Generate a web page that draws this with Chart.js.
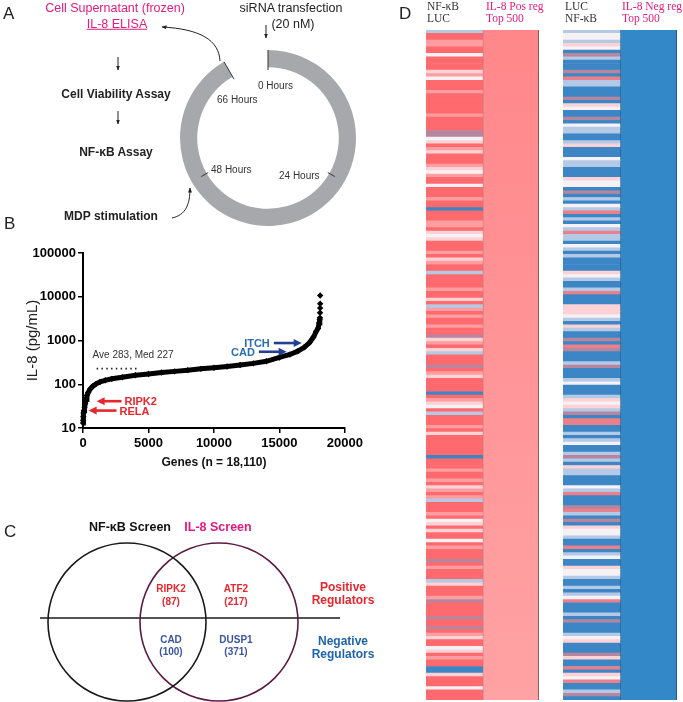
<!DOCTYPE html>
<html>
<head>
<meta charset="utf-8">
<script src="https://cdn.jsdelivr.net/npm/chart.js@4.4.0/dist/chart.umd.min.js"></script>
<style>
  body { margin: 0; width: 683px; height: 702px; position: relative; overflow: hidden; background: #fff;
         font-family: "Liberation Sans", Arial, sans-serif; }
  canvas { position: absolute; }
  .t { position: absolute; white-space: nowrap; line-height: 1; }
  svg { position: absolute; left: 0; top: 0; pointer-events: none; }
</style>
</head>
<body>
<canvas id="ring" width="184" height="184" style="left:176px;top:46px"></canvas>
<canvas id="il8" width="366" height="240" style="left:0;top:240px"></canvas>
<canvas id="venn" width="360" height="172" style="left:0;top:530px"></canvas>
<canvas id="heatPos" width="113" height="670" style="left:426px;top:30px"></canvas>
<canvas id="heatNeg" width="114" height="670" style="left:563px;top:30px"></canvas>

<svg width="683" height="702">
  <defs>
    <marker id="hd" viewBox="0 0 10 10" refX="9" refY="5" markerWidth="5" markerHeight="5" orient="auto">
      <path d="M0,1 L10,5 L0,9 z" fill="#222"/>
    </marker>
  </defs>
  <g stroke="#222" stroke-width="1" fill="none" marker-end="url(#hd)">
    <path d="M266,25 L266,38"/>
    <path d="M118,57 L118,70"/>
    <path d="M118,111 L118,124"/>
    <path d="M220,61 C219,40 200,29 162,27"/>
    <path d="M172,218 C186,215 190,204 190,188"/>
  </g>
</svg>

<script>
// ---- panel A : 72 h cycle, ring covers the 66 h up to ELISA
const cycleLabels = ['0-66 Hours', '66-72 Hours'];
const cycleHours = [66, 6];
const tickHours = [0, 24, 48, 66];

// ---- panel B : ranked IL-8 values
const geneRank = [0, 10, 25, 50, 80, 120, 170, 230, 300, 400, 550, 750, 1000, 1300, 1700, 2200, 3000, 4000,
  5000, 6000, 7000, 8000, 9000, 10000, 11000, 12000, 13000, 14000, 15000, 15800, 16400, 16900, 17300,
  17600, 17800, 17950, 18030, 18070, 18090];
const il8Value = [13, 15, 18, 22, 25, 30, 36, 45, 55, 65, 78, 90, 102, 113, 123, 133, 145, 160,
  172, 185, 197, 210, 225, 238, 255, 275, 300, 335, 410, 480, 570, 700, 900,
  1200, 1600, 1900, 2500, 3000, 3300];
// top outliers, drawn as lone diamonds
const outlierRank = [18100, 18108, 18109, 18110];
const outlierValue = [4300, 5500, 6900, 10700];
const yTicks = [10, 100, 1000, 10000, 100000];
const medianLine = [1040, 4310];
const medianValue = 227;

const calloutGenes = ['RIPK2', 'RELA', 'ITCH', 'CAD'];
const calloutTail = [2940, 2560, 14570, 13430];
const calloutHead = [1040, 430, 16700, 15550];
const calloutLevel = [41, 25, 875, 553];

// ---- panel C : overlap of the two screens
const vennSets = ['NF-κB Screen', 'IL-8 Screen'];
const vennX = [127, 219];
const vennY = [92, 92];
const vennR = 79;

// ---- panel D : top 500 regulators, 200 bins (R strong red ... B strong blue)
const posStripes =
  'lRRrrRRwRRRRprwRRRrR' + 'RRRRRrRRRRmmwpRrpRRR' + 'rpwrRRwRRRrRRBRRRrrR' + 'pwpRRRrRprRRlRRRRrRR' +
  'pRlrRrRRrRRmprRplRRR' + 'mRrpRRRRBRrpwRlRRRrR' + 'pRRRRRRBRRRrRRrRprRr' + 'lRRRrRwpRpRRwRrRRRmR' +
  'rRRRlpRRRrmRRRRmRRmR' + 'rpRRwpRrRRBBpRRRwRRR';
const negStripes =
  'lwwlpwBmlBBBmBxllBBB' + 'mBpwBBmBwllBBlpBBBwl' + 'lBBBpwwBmBlBwlxBlBwl' + 'xllBwlBlBBBBpwlBBlxB' +
  'BBpppwlBplBBmBxmBBBl' + 'mBBBlwBBBlpwplmBxxBB' + 'lBlwBBlmlBpllBBBwlxB' + 'BBmxlBmBpwwlBBxBlwBB' +
  'pwwlBBlBlwxBBBlBmBBB' + 'lwpBBBmpBBxBpwxBBlmB';
const stripeColor = { R: '#ff6a6e', r: '#ff9ea1', p: '#fdd2d5', w: '#f5f1f5', l: '#b3c9e6',
                      B: '#3c86c6', m: '#b5869d', x: '#e9808a' };

const PINK = '#e6197d', RED = '#e8262d', NAVY = '#233f94', STEEL = '#2a6db3';

Chart.defaults.font.family = "'Liberation Sans', Arial, sans-serif";
Chart.defaults.animation = false;
Chart.defaults.responsive = false;
Chart.defaults.plugins.legend.display = false;
Chart.defaults.plugins.tooltip.enabled = false;

function put(txt, x, y, css, align) {
  const d = document.createElement('div');
  d.className = 't';
  d.textContent = txt;
  d.style.cssText = css || '';
  d.style.left = x + 'px';
  d.style.top = y + 'px';
  const tx = align === 'c' ? '-50%' : align === 'r' ? '-100%' : '0';
  d.style.transform = 'translate(' + tx + ',-50%)';
  document.body.appendChild(d);
  return d;
}

// ring ticks
const ringTicks = {
  id: 'ringTicks',
  afterDraw(chart) {
    const arc = chart.getDatasetMeta(0).data[0];
    const { x, y } = arc.getProps(['x', 'y'], true);
    const ctx = chart.ctx;
    ctx.save();
    ctx.strokeStyle = '#333';
    ctx.lineWidth = 1;
    tickHours.forEach(h => {
      const a = -Math.PI / 2 + h / 72 * Math.PI * 2;
      const long = (h === 0 || h === 66);
      const r0 = long ? 88 : 77, r1 = long ? 68 : 69;
      ctx.beginPath();
      ctx.moveTo(x + r0 * Math.cos(a), y + r0 * Math.sin(a));
      ctx.lineTo(x + r1 * Math.cos(a), y + r1 * Math.sin(a));
      ctx.stroke();
    });
    ctx.restore();
  }
};

new Chart(document.getElementById('ring'), {
  type: 'doughnut',
  data: { labels: cycleLabels, datasets: [{ data: cycleHours, backgroundColor: ['#a6a8ab', 'rgba(0,0,0,0)'], borderWidth: 0, hoverOffset: 0 }] },
  options: { radius: 88, cutout: 74, rotation: 0, devicePixelRatio: 1 },
  plugins: [ringTicks]
});

// callout arrows + median label
const callouts = {
  id: 'callouts',
  afterDatasetsDraw(chart) {
    const { ctx, scales: { x, y } } = chart;
    ctx.save();
    calloutGenes.forEach((g, i) => {
      const py = y.getPixelForValue(calloutLevel[i]);
      const xt = x.getPixelForValue(calloutTail[i]);
      const xh = x.getPixelForValue(calloutHead[i]);
      const pos = i < 2;
      const col = pos ? RED : NAVY;
      const dir = xh < xt ? -1 : 1;
      ctx.strokeStyle = col;
      ctx.fillStyle = col;
      ctx.lineWidth = 2.6;
      ctx.beginPath();
      ctx.moveTo(xt, py);
      ctx.lineTo(xh - dir * 6, py);
      ctx.stroke();
      ctx.beginPath();
      ctx.moveTo(xh, py);
      ctx.lineTo(xh - dir * 8, py - 4);
      ctx.lineTo(xh - dir * 8, py + 4);
      ctx.closePath();
      ctx.fill();
      ctx.font = 'bold 11px "Liberation Sans", Arial, sans-serif';
      ctx.textBaseline = 'middle';
      ctx.fillStyle = pos ? RED : STEEL;
      if (pos) { ctx.textAlign = 'left'; ctx.fillText(g, xt + 3, py + 1); }
      else { ctx.textAlign = 'right'; ctx.fillText(g, xt - 4, py + 1); }
    });
    const mx = x.getPixelForValue(medianLine[0]);
    const my = y.getPixelForValue(medianValue);
    ctx.font = '10px "Liberation Sans", Arial, sans-serif';
    ctx.fillStyle = '#333';
    ctx.textAlign = 'left';
    ctx.textBaseline = 'middle';
    ctx.fillText('Ave 283, Med 227', mx - 4, my - 13);
    ctx.restore();
  }
};

const diamond = { pointStyle: 'rectRot', pointRadius: 3.2, pointBackgroundColor: '#000', pointBorderWidth: 0, clip: false };

new Chart(document.getElementById('il8'), {
  type: 'scatter',
  data: {
    datasets: [
      Object.assign({ data: geneRank.map((r, i) => ({ x: r, y: il8Value[i] })), showLine: true, borderColor: '#000', borderWidth: 5 }, diamond),
      Object.assign({ data: outlierRank.map((r, i) => ({ x: r, y: outlierValue[i] })), showLine: false }, diamond),
      { data: medianLine.map(r => ({ x: r, y: medianValue })), showLine: true, borderColor: '#222', borderWidth: 1.6,
        borderDash: [1.5, 3.3], pointRadius: 0 }
    ]
  },
  options: {
    devicePixelRatio: 1,
    layout: { autoPadding: false, padding: { top: 13, right: 19.5, left: 0, bottom: 0 } },
    scales: {
      x: {
        type: 'linear', min: 0, max: 20000,
        ticks: { stepSize: 5000, callback: v => String(v), color: '#000', padding: 3, maxRotation: 0,
                 font: { size: 13, weight: 'bold' } },
        grid: { drawOnChartArea: false, drawTicks: true, tickLength: 5, color: '#000', lineWidth: 1.5 },
        border: { display: true, color: '#000', width: 2 },
        title: { display: true, text: 'Genes (n = 18,110)', color: '#111', font: { size: 12, weight: 'bold' }, padding: { bottom: 10, top: 0 } },
        afterFit: s => { s.height = 52; }
      },
      y: {
        type: 'logarithmic', min: 10, max: 100000,
        afterBuildTicks: s => { s.ticks = yTicks.map(v => ({ value: v })); },
        ticks: { callback: v => String(v), color: '#000', padding: 2, font: { size: 13, weight: 'bold' } },
        grid: { drawOnChartArea: false, drawTicks: true, tickLength: 5, color: '#000', lineWidth: 1.5 },
        border: { display: true, color: '#000', width: 2 },
        title: { display: true, text: 'IL-8 (pg/mL)', color: '#222', font: { size: 15 }, padding: { top: 24, bottom: 0 } },
        afterFit: s => { s.width = 83; }
      }
    }
  },
  plugins: [callouts]
});

// Venn
new Chart(document.getElementById('venn'), {
  type: 'scatter',
  data: {
    datasets: [
      { data: [{ x: vennX[0], y: vennY[0] }], pointRadius: vennR, pointBorderColor: '#1a1a1a', pointBackgroundColor: 'rgba(0,0,0,0)', pointBorderWidth: 1.6, clip: false },
      { data: [{ x: vennX[1], y: vennY[1] }], pointRadius: vennR, pointBorderColor: '#5b1a45', pointBackgroundColor: 'rgba(0,0,0,0)', pointBorderWidth: 1.6, clip: false },
      { data: [{ x: 40, y: 88 }, { x: 340, y: 88 }], showLine: true, borderColor: '#1a1a1a', borderWidth: 1.6, pointRadius: 0 }
    ]
  },
  options: {
    devicePixelRatio: 1,
    layout: { autoPadding: false, padding: 0 },
    scales: { x: { display: false, min: 0, max: 360 }, y: { display: false, min: 0, max: 172, reverse: true } }
  }
});

// heatmaps
function heatmap(id, stripes, solid, edge) {
  const rows = stripes.split('');
  new Chart(document.getElementById(id), {
    type: 'bar',
    data: {
      labels: ['screen', 'top500'],
      datasets: [
        { data: rows.map((c, i) => ({ x: 'screen', y: [i, i + 1] })), backgroundColor: rows.map(c => stripeColor[c]),
          borderWidth: 0, grouped: false, barPercentage: 1, categoryPercentage: 1 },
        { data: [{ x: 'top500', y: [0, rows.length] }], backgroundColor: solid, borderColor: edge,
          borderWidth: { left: 1, right: 1, top: 0, bottom: 0 }, borderSkipped: false, grouped: false, barPercentage: 1, categoryPercentage: 1 }
      ]
    },
    options: {
      devicePixelRatio: 1,
      layout: { autoPadding: false, padding: 0 },
      scales: { x: { display: false }, y: { display: false, min: 0, max: rows.length, reverse: true } }
    }
  });
}
heatmap('heatPos', posStripes, ctx => {
  const a = ctx.chart.chartArea;
  if (!a) return '#ff9194';
  const g = ctx.chart.ctx.createLinearGradient(0, a.top, 0, a.bottom);
  g.addColorStop(0, '#ff878a');
  g.addColorStop(1, '#ffa2a4');
  return g;
}, '#444');
heatmap('heatNeg', negStripes, '#3388c8', '#1f4466');

// text
const L = 'color:#222;font-size:17px;';
put('A', 3, 13, L); put('B', 4, 223, L); put('C', 4, 531, L); put('D', 399, 13, L);

put('Cell Supernatant (frozen)', 115, 8, 'font-size:12.5px;color:' + PINK, 'c');
put('IL-8 ELISA', 117, 24, 'font-size:12.5px;text-decoration:underline;color:' + PINK, 'c');
put('siRNA transfection', 291, 8, 'font-size:12.5px;color:#222', 'c');
put('(20 nM)', 293, 24, 'font-size:12.5px;color:#222', 'c');
const BA = 'font-size:12px;font-weight:bold;color:#222';
put('Cell Viability Assay', 116, 94, BA, 'c');
put('NF-κB Assay', 116, 152, BA, 'c');
put('MDP stimulation', 111, 216, BA, 'c');
const HR = 'font-size:10px;color:#333';
put('0 Hours', 258, 86, HR); put('66 Hours', 217, 100, HR);
put('48 Hours', 211, 170, HR); put('24 Hours', 279, 176, HR);

const VT = 'font-size:12.5px;font-weight:bold;';
put(vennSets[0], 130, 527, VT + 'color:#111', 'c');
put(vennSets[1], 218, 527, VT + 'color:' + PINK, 'c');
const VI = 'font-size:10px;font-weight:bold;';
put('RIPK2', 171, 589, VI + 'color:' + RED, 'c'); put('(87)', 171, 602, VI + 'color:' + RED, 'c');
put('ATF2', 236, 589, VI + 'color:' + RED, 'c'); put('(217)', 236, 602, VI + 'color:' + RED, 'c');
put('CAD', 171, 640, VI + 'color:#3b55a5', 'c'); put('(100)', 171, 652, VI + 'color:#3b55a5', 'c');
put('DUSP1', 236, 640, VI + 'color:#3b55a5', 'c'); put('(371)', 236, 652, VI + 'color:#3b55a5', 'c');
const RG = 'font-size:12px;font-weight:bold;';
put('Positive', 343, 587, RG + 'color:' + RED, 'c'); put('Regulators', 343, 600, RG + 'color:' + RED, 'c');
put('Negative', 343, 641, RG + 'color:#1d63ad', 'c'); put('Regulators', 343, 654, RG + 'color:#1d63ad', 'c');

const SF = 'font-family:"Liberation Serif","Times New Roman",serif;font-size:11.5px;';
put('NF-κB', 427, 7, SF + 'color:#333'); put('LUC', 427, 19, SF + 'color:#333');
put('IL-8 Pos reg', 486, 7, SF + 'color:' + PINK); put('Top 500', 486, 19, SF + 'color:' + PINK);
put('LUC', 565, 7, SF + 'color:#333'); put('NF-κB', 565, 19, SF + 'color:#333');
put('IL-8 Neg reg', 622, 7, SF + 'color:' + PINK); put('Top 500', 622, 19, SF + 'color:' + PINK);
</script>
</body>
</html>
